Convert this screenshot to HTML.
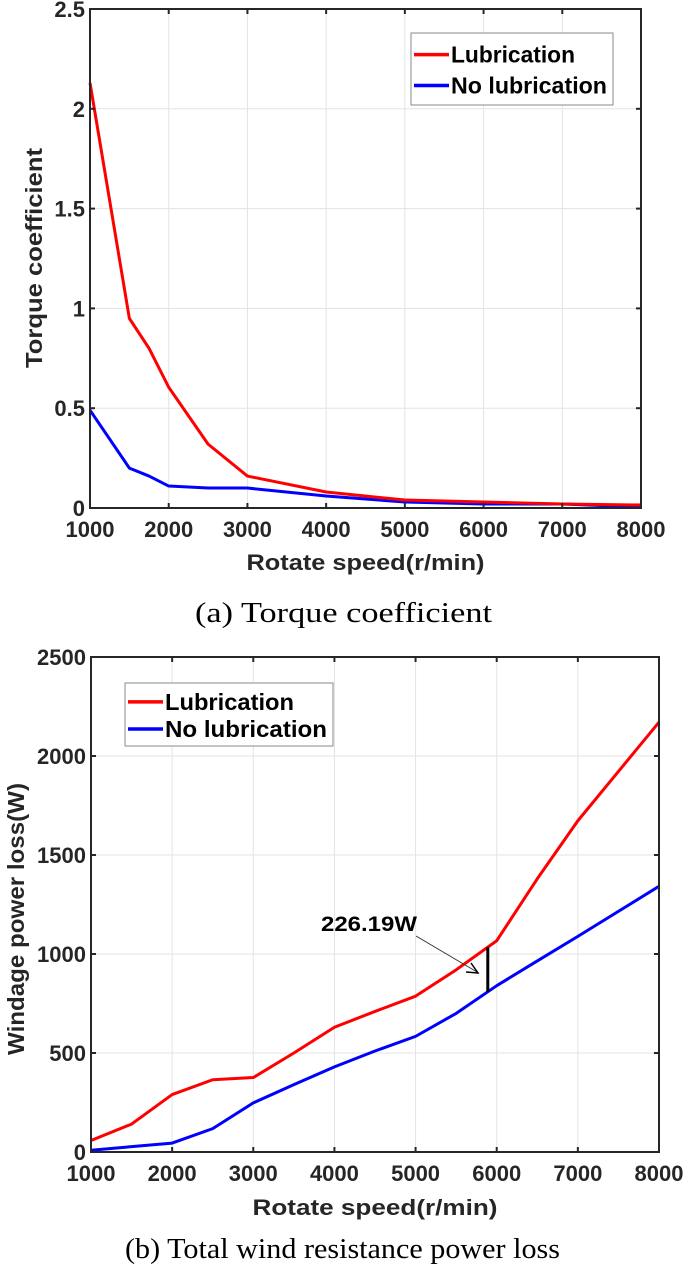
<!DOCTYPE html>
<html><head><meta charset="utf-8"><style>
body{margin:0;background:#fff;width:685px;height:1279px;overflow:hidden}
svg text{font-family:"Liberation Sans",Arial,sans-serif}
</style></head><body>
<svg id="svg" width="685" height="1279" viewBox="0 0 685 1279" xmlns="http://www.w3.org/2000/svg">
<text x="195" y="622" textLength="297" lengthAdjust="spacingAndGlyphs" font-size="29" style="font-family:'Liberation Serif',serif" fill="#000">(a) Torque coefficient</text>
<text x="125" y="1258" textLength="435" lengthAdjust="spacingAndGlyphs" font-size="29" style="font-family:'Liberation Serif',serif" fill="#000">(b) Total wind resistance power loss</text>
</svg>
<script>
const speedA = [1000,1500,1750,2000,2500,3000,4000,5000,6000,7000,8000];
const lubA = [2.13,0.95,0.8,0.605,0.32,0.16,0.08,0.04,0.03,0.02,0.015];
const noLubA = [0.49,0.2,0.16,0.11,0.1,0.1,0.06,0.03,0.02,0.02,0.005];
const yTicksA = [0,0.5,1,1.5,2,2.5];
const yTickLabelsA = ["0","0.5","1","1.5","2","2.5"];
const speedB = [1000,1500,2000,2500,3000,3500,4000,4500,5000,5500,6000,6500,7000,8000];
const lubB = [58,141,290,365,376,500,630,710,787,920,1067,1380,1673,2171];
const noLubB = [9,27,45,118,248,340,430,510,584,700,840,965,1089,1342];
const yTicksB = [0,500,1000,1500,2000,2500];
const yTickLabelsB = ["0","500","1000","1500","2000","2500"];
const xTicks = [1000,2000,3000,4000,5000,6000,7000,8000];
const annotSpeed = 5890;
const annotLabel = "226.19W";

const NS="http://www.w3.org/2000/svg";
const svg=document.getElementById('svg');
function mk(tag,attrs,parent){const e=document.createElementNS(NS,tag);for(const k in attrs)e.setAttribute(k,attrs[k]);(parent||svg).appendChild(e);return e;}
function interp(xs,ys,x){for(let i=0;i<xs.length-1;i++){if(x>=xs[i]&&x<=xs[i+1]){return ys[i]+(ys[i+1]-ys[i])*(x-xs[i])/(xs[i+1]-xs[i]);}}return ys[ys.length-1];}

function chart(o){
  const g=mk('g',{});
  
  
  const sx=v=>o.L+(v-1000)/7000*(o.R-o.L);
  const sy=v=>o.B-(v-o.ymin)/(o.ymax-o.ymin)*(o.B-o.T);
  xTicks.forEach(t=>{const l=mk('line',{x1:sx(t),x2:sx(t),y1:o.T,y2:o.B,stroke:'#e3e3e3','stroke-width':1},g);
    });
  o.yt.forEach(t=>{const l=mk('line',{x1:o.L,x2:o.R,y1:sy(t),y2:sy(t),stroke:'#e3e3e3','stroke-width':1},g);
    });
  const ser=(xs,ys,col,nm)=>{const p=mk('polyline',{points:xs.map((x,i)=>sx(x)+','+sy(ys[i])).join(' '),fill:'none',stroke:col,'stroke-width':3,'stroke-linejoin':'round'},g);
    };
  ser(o.xs,o.noLub,'#0000ff','no-lubrication-line');
  ser(o.xs,o.lub,'#ff0000','lubrication-line');
  const b=mk('rect',{x:o.L,y:o.T,width:o.R-o.L,height:o.B-o.T,fill:'none',stroke:'#262626','stroke-width':2},g);
  
  xTicks.forEach(t=>{
    mk('line',{x1:sx(t),x2:sx(t),y1:o.B,y2:o.B-5,stroke:'#262626','stroke-width':2},g);
    mk('line',{x1:sx(t),x2:sx(t),y1:o.T,y2:o.T+5,stroke:'#262626','stroke-width':2},g);
    const tx=mk('text',{x:sx(t),y:o.B+29,'text-anchor':'middle','font-size':22,'font-weight':'bold',fill:'#262626'},g);
    tx.textContent=t;
  });
  o.yt.forEach((t,i)=>{
    mk('line',{x1:o.L,x2:o.L+5,y1:sy(t),y2:sy(t),stroke:'#262626','stroke-width':2},g);
    mk('line',{x1:o.R,x2:o.R-5,y1:sy(t),y2:sy(t),stroke:'#262626','stroke-width':2},g);
    const tx=mk('text',{x:o.L-5,y:sy(t)+8,'text-anchor':'end','font-size':22,'font-weight':'bold',fill:'#262626'},g);
    tx.textContent=o.ytl[i];
  });
  const xt=mk('text',{x:(o.L+o.R)/2,y:o.B+o.xtdy,'text-anchor':'middle','font-size':22,'font-weight':'bold',fill:'#262626',textLength:o.xtw,lengthAdjust:'spacingAndGlyphs'},g);
  xt.textContent='Rotate speed(r/min)';
  const yt=mk('text',{x:0,y:0,'text-anchor':'middle','font-size':23,'font-weight':'bold',fill:'#262626',textLength:o.ytw,lengthAdjust:'spacingAndGlyphs',transform:`translate(${o.ytx},${o.ytc}) rotate(-90)`},g);
  yt.textContent=o.ytitle;
  const lg=mk('g',{},g);
  mk('rect',{x:o.lx,y:o.ly,width:o.lw,height:o.lh,fill:'#fff',stroke:'#8a8a8a','stroke-width':1},lg);
  [['Lubrication','#ff0000',o.lw1],['No lubrication','#0000ff',o.lw2]].forEach((e,i)=>{
    const yy=o.ly+o.lh*(i===0?0.3:0.73);
    mk('line',{x1:o.lx+3,x2:o.lx+38,y1:yy,y2:yy,stroke:e[1],'stroke-width':3.5},lg);
    const t=mk('text',{x:o.lx+40,y:yy+8,'font-size':23,'font-weight':'bold',fill:'#000',textLength:e[2],lengthAdjust:'spacingAndGlyphs'},lg);
    t.textContent=e[0];
  });
  return {sx,sy,g};
}
chart({name:'torque-chart',L:90,R:641,T:9,B:508,ymin:0,ymax:2.5,yt:yTicksA,ytl:yTickLabelsA,xs:speedA,lub:lubA,noLub:noLubA,ytitle:'Torque coefficient',ytx:42,ytc:258,ytw:220,xtdy:62,xtw:238,lx:411,ly:33,lw:202,lh:72,lw1:124,lw2:156});
const c=chart({name:'power-loss-chart',L:91,R:659,T:657,B:1152,ymin:0,ymax:2500,yt:yTicksB,ytl:yTickLabelsB,xs:speedB,lub:lubB,noLub:noLubB,ytitle:'Windage power loss(W)',ytx:24,ytc:919,ytw:272,xtdy:63,xtw:245,lx:125,ly:683,lw:208,lh:63,lw1:129,lw2:162});
const ax=c.sx(annotSpeed);
const bar=mk('line',{x1:ax,x2:ax,y1:c.sy(interp(speedB,lubB,annotSpeed)),y2:c.sy(interp(speedB,noLubB,annotSpeed)),stroke:'#000','stroke-width':3});


const at=mk('text',{x:321,y:931,'font-size':21,'font-weight':'bold',fill:'#000',textLength:96,lengthAdjust:'spacingAndGlyphs'});
at.textContent=annotLabel;


const ar=mk('line',{x1:416,y1:936,x2:477,y2:972,stroke:'#333','stroke-width':1});


const ah=mk('polyline',{points:'466,972 478,973 471,963',fill:'none',stroke:'#000','stroke-width':1.5});


</script>
</body></html>
